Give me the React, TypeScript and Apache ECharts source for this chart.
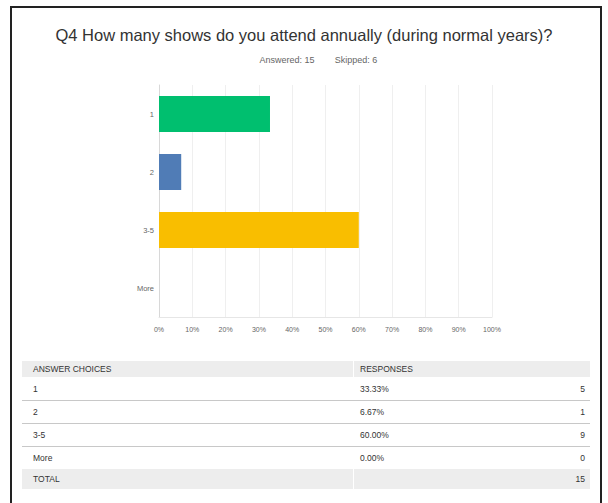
import React, { useEffect, useRef } from "react";
import * as echarts from "echarts";

const titleText = "Q4 How many shows do you attend annually (during normal years)?";
const answered = 15;
const skipped = 6;
const categories = ["1", "2", "3-5", "More"];
const percents = [33.33, 6.67, 60.0, 0.0];
const counts = [5, 1, 9, 0];
const total = 15;
const barColors = ["#00BF6F", "#507CB6", "#F9BE00", "#6BC8CD"];

const FONT = "'Liberation Sans', Arial, sans-serif";

export default function App() {
  const ref = useRef<HTMLDivElement>(null);
  useEffect(() => {
    document.body.style.margin = "0";
    if (!ref.current) return;
    const chart = echarts.init(ref.current, undefined, { renderer: "svg" });

    const tL = 22;
    const tR = 590;
    const colX = 360;
    const colSplit = 353;
    const headTop = 361;
    const headH = 16;
    const rowTop0 = 377;
    const rowH = 23;
    const txt = (text: string, x: number, y: number, align: string, size = 8.5, fill = "#333") => ({
      type: "text",
      x,
      y,
      silent: true,
      style: {
        text,
        fontSize: size,
        fontFamily: FONT,
        fill,
        align,
        verticalAlign: "middle",
        textAlign: align,
        textVerticalAlign: "middle",
      },
    });

    const graphics: any[] = [];
    graphics.push({
      type: "rect",
      shape: { x: 11, y: 7, width: 590, height: 520 },
      style: { fill: "none", stroke: "#222", lineWidth: 2 },
      silent: true,
    });
    graphics.push(txt(`Answered: ${answered}`, 287, 60, "center", 9, "#666"));
    graphics.push(txt(`Skipped: ${skipped}`, 356, 60, "center", 9, "#666"));
    graphics.push({ type: "rect", shape: { x: tL, y: headTop, width: colSplit - tL, height: headH }, style: { fill: "#ededed" }, silent: true });
    graphics.push({ type: "rect", shape: { x: colSplit + 1, y: headTop, width: tR - colSplit - 1, height: headH }, style: { fill: "#ededed" }, silent: true });
    graphics.push(txt("ANSWER CHOICES", 33, headTop + headH / 2, "left", 8.5, "#333"));
    graphics.push(txt("RESPONSES", colX, headTop + headH / 2, "left", 8.5, "#333"));
    categories.forEach((c, i) => {
      const top = rowTop0 + i * rowH;
      const cy = top + rowH / 2;
      graphics.push(txt(c, 33, cy, "left"));
      graphics.push(txt(percents[i].toFixed(2) + "%", colX, cy, "left"));
      graphics.push(txt(String(counts[i]), 585, cy, "right"));
      if (i < categories.length - 1) {
        graphics.push({
          type: "line",
          shape: { x1: tL, y1: top + rowH + 0.5, x2: tR, y2: top + rowH + 0.5 },
          style: { stroke: "#c8c8c8", lineWidth: 1 },
          silent: true,
        });
      }
    });
    const totTop = rowTop0 + categories.length * rowH;
    graphics.push({ type: "rect", shape: { x: tL, y: totTop, width: colSplit - tL, height: 20 }, style: { fill: "#ededed" }, silent: true });
    graphics.push({ type: "rect", shape: { x: colSplit + 1, y: totTop, width: tR - colSplit - 1, height: 20 }, style: { fill: "#ededed" }, silent: true });
    graphics.push(txt("TOTAL", 33, totTop + 10, "left"));
    graphics.push(txt(String(total), 585, totTop + 10, "right"));

    chart.setOption({
      animation: false,
      backgroundColor: "#fff",
      title: {
        text: titleText,
        left: "center",
        top: 21,
        textStyle: { fontSize: 16.5, fontWeight: "normal", color: "#333", fontFamily: FONT },
      },
      grid: { left: 159, right: 116, top: 85, bottom: 186, containLabel: false },
      xAxis: {
        type: "value",
        min: 0,
        max: 100,
        interval: 10,
        axisLine: { show: true, lineStyle: { color: "#e6e6e6" } },
        axisTick: { show: false },
        splitLine: { show: true, lineStyle: { color: "#efefef" } },
        axisLabel: { formatter: "{value}%", fontSize: 7, color: "#666", margin: 9, fontFamily: FONT },
      },
      yAxis: {
        type: "category",
        data: categories,
        inverse: true,
        axisLine: { show: true, lineStyle: { color: "#d8d8d8" } },
        axisTick: { show: false },
        axisLabel: { fontSize: 7.5, color: "#666", margin: 5, fontFamily: FONT },
      },
      series: [
        {
          type: "bar",
          barWidth: 36,
          silent: true,
          data: percents.map((v, i) => ({ value: v, itemStyle: { color: barColors[i] } })),
        },
      ],
      graphic: graphics,
    });
    return () => chart.dispose();
  }, []);
  return <div ref={ref} style={{ width: 608, height: 503 }} />;
}
